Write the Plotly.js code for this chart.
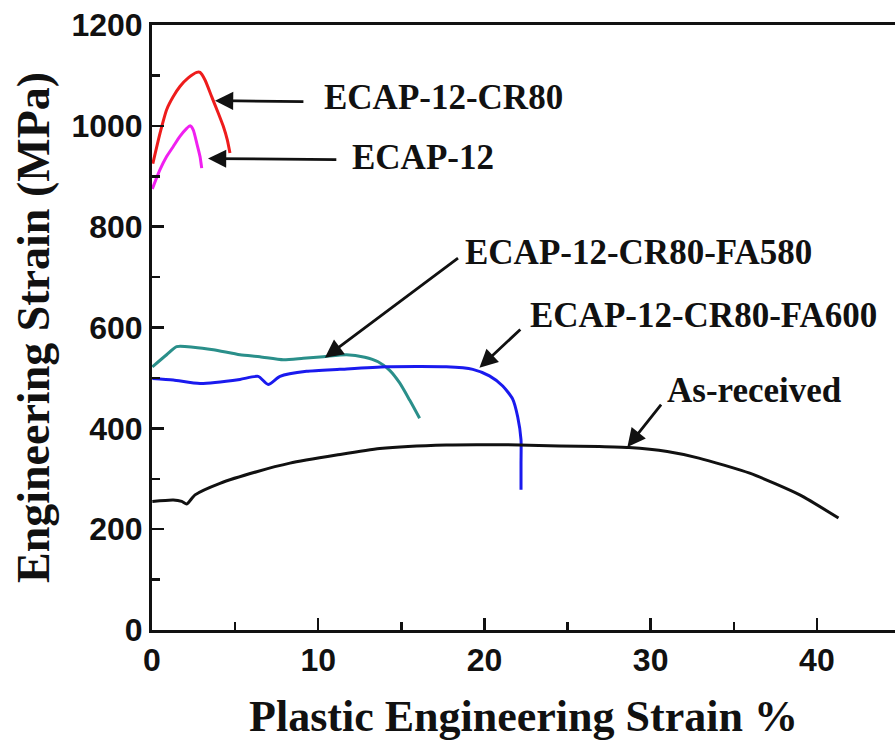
<!DOCTYPE html>
<html>
<head>
<meta charset="utf-8">
<script src="https://cdn.plot.ly/plotly-3.0.1.min.js"></script>
<style>html,body{margin:0;padding:0;background:#fff;}#chart{width:895px;height:742px;}</style>
</head>
<body>
<div id="chart"></div>
<script>
// ECAP-12-CR80
const cr80X = [0.05, 0.48, 0.88, 1.28, 1.68, 2.18, 2.69, 2.89, 3.19, 3.59, 3.99, 4.29, 4.53, 4.69];
const cr80Y = [925, 985, 1032, 1058, 1078, 1095, 1106, 1106, 1091, 1058, 1025, 999, 972, 946];
// ECAP-12
const e12X = [0.02, 0.48, 0.88, 1.28, 1.68, 2.09, 2.29, 2.48, 2.69, 2.89, 2.99];
const e12Y = [875, 913, 939, 959, 979, 995, 1000, 992, 966, 939, 916];
// ECAP-12-CR80-FA580
const fa580X = [0.02, 0.88, 1.48, 2.48, 3.69, 5.29, 6.49, 7.9, 9.1, 10.3, 11.7, 12.8, 13.6, 14.3, 14.9, 15.5, 16.1];
const fa580Y = [522, 546, 562, 561, 556, 546, 542, 536, 539, 542, 546, 541, 532, 515, 490, 456, 420];
// ECAP-12-CR80-FA600
const fa600X = [0.02, 1.28, 2.89, 5.29, 6.39, 6.99, 7.7, 9.3, 11.3, 14.1, 17.7, 19.3, 20.3, 21.1, 21.7, 22.0, 22.2, 22.2, 22.2];
const fa600Y = [499, 496, 489, 497, 503, 487, 503, 513, 517, 522, 522, 517, 504, 484, 458, 423, 377, 331, 278];
// As-received
const asrX = [0.02, 1.28, 1.79, 2.09, 2.59, 4.09, 6.3, 8.3, 11.1, 13.7, 17.7, 22.1, 24.5, 26.9, 28.7, 31.0, 32.9, 35.96, 38.97, 41.3];
const asrY = [255, 258, 255, 250, 268, 291, 314, 331, 347, 360, 367, 367, 365, 364, 362, 354, 341, 311, 268, 222];

const labels = ["ECAP-12-CR80", "ECAP-12", "ECAP-12-CR80-FA580", "ECAP-12-CR80-FA600", "As-received"];
const colors = ["#ee1c1c", "#f020f0", "#2a8f8a", "#1a1aee", "#111111"];

const xTitle = "Plastic Engineering Strain %";
const yTitle = "Engineering Strain (MPa)";

// label text anchor (left, middle) and arrow tail -> head, in data units
const labelPos = [[10.2, 1057], [11.9, 937], [18.7, 748], [22.6, 623], [30.85, 476]];
const arrowTail = [[9.2, 1048], [11.18, 933], [18.5, 740], [22.25, 599], [30.7, 450]];
const arrowHead = [[3.79, 1050], [3.37, 935], [10.4, 540], [19.7, 520], [28.6, 363]];

const xs = [cr80X, e12X, fa580X, fa600X, asrX];
const ys = [cr80Y, e12Y, fa580Y, fa600Y, asrY];

const traces = xs.map((x, i) => ({
  x: x, y: ys[i], type: 'scatter', mode: 'lines', name: labels[i],
  line: {color: colors[i], width: 3, shape: 'spline', smoothing: 0.6}
}));

const annFont = {family: "Liberation Serif, Times New Roman, serif", size: 35, color: '#111'};
const annotations = [];
labels.forEach((t, i) => {
  annotations.push({x: labelPos[i][0], y: labelPos[i][1], xref: 'x', yref: 'y', text: '<b>' + t + '</b>',
    showarrow: false, xanchor: 'left', yanchor: 'middle', font: annFont});
  annotations.push({x: arrowHead[i][0], y: arrowHead[i][1], ax: arrowTail[i][0], ay: arrowTail[i][1],
    xref: 'x', yref: 'y', axref: 'x', ayref: 'y', text: '', showarrow: true,
    arrowhead: 2, arrowsize: 1.3, arrowwidth: 2.8, arrowcolor: '#111', standoff: 0});
});

const tickFont = {family: "Liberation Sans, Arial, sans-serif", size: 32, color: '#111', weight: 'bold'};
const layout = {
  width: 895, height: 742,
  margin: {l: 152, r: 0, t: 25, b: 112},
  paper_bgcolor: '#fff', plot_bgcolor: '#fff',
  showlegend: false,
  xaxis: {
    range: [0, 44.7], tickvals: [0, 10, 20, 30, 40], ticktext: ['0', '10', '20', '30', '40'],
    ticks: 'inside', ticklen: 12, tickwidth: 2.5, tickcolor: '#111',
    minor: {tickvals: [5, 15, 25, 35], ticks: 'inside', ticklen: 8, tickwidth: 2.5, tickcolor: '#111'},
    showline: true, linewidth: 3, linecolor: '#111', mirror: true,
    showgrid: false, zeroline: false, tickfont: tickFont,
    title: {text: '<b>' + xTitle + '</b>', font: {family: "Liberation Serif, Times New Roman, serif", size: 44, color: '#111'}, standoff: 23}
  },
  yaxis: {
    range: [0, 1200], tickvals: [0, 200, 400, 600, 800, 1000, 1200],
    ticktext: ['0', '200', '400', '600', '800', '1000', '1200'],
    ticks: 'inside', ticklen: 12, tickwidth: 2.5, tickcolor: '#111',
    minor: {tickvals: [100, 300, 500, 700, 900, 1100], ticks: 'inside', ticklen: 8, tickwidth: 2.5, tickcolor: '#111'},
    showline: true, linewidth: 3, linecolor: '#111', mirror: false,
    showgrid: false, zeroline: false, tickfont: tickFont,
    title: {text: '<b>' + yTitle + '</b>', font: {family: "Liberation Serif, Times New Roman, serif", size: 46, color: '#111'}, standoff: 8}
  },
  annotations: annotations
};

Plotly.newPlot('chart', traces, layout, {displayModeBar: false, staticPlot: true});
</script>
</body>
</html>
